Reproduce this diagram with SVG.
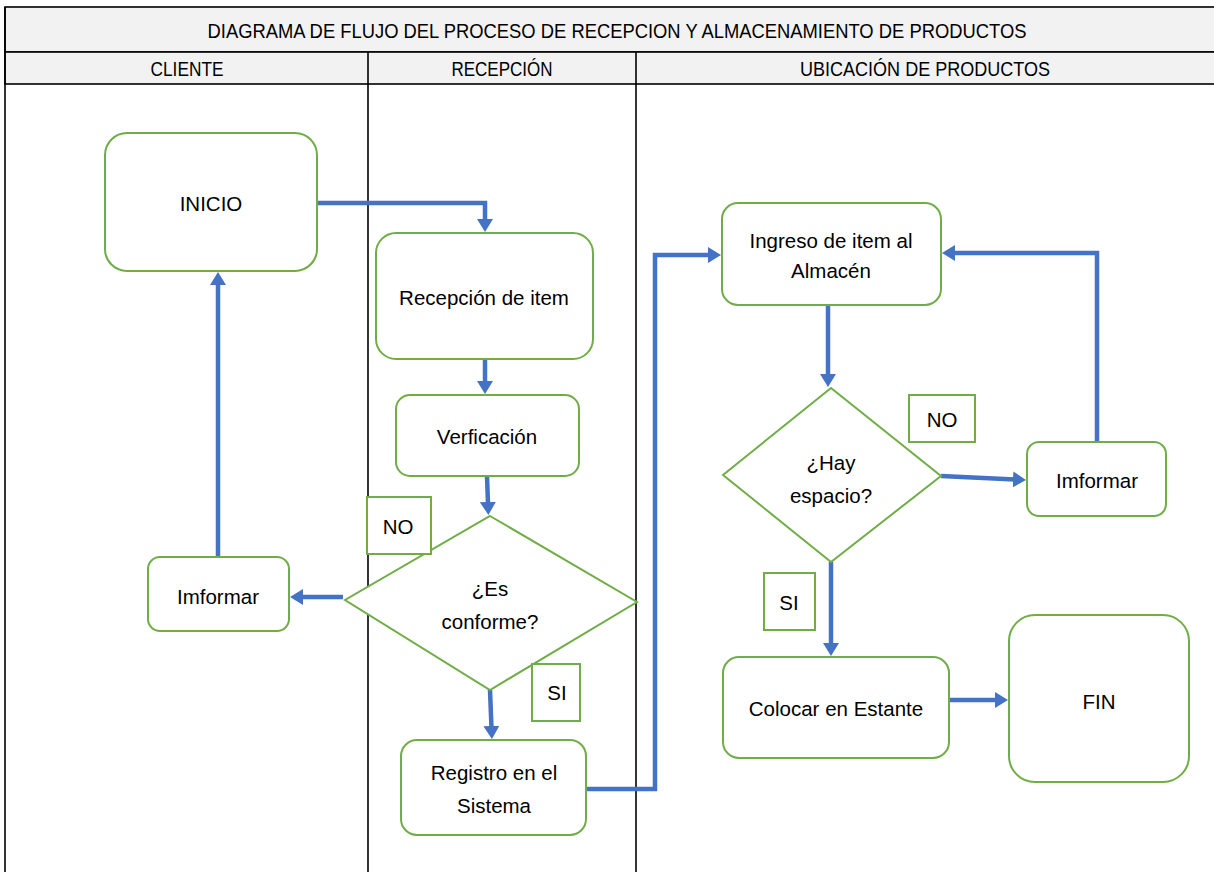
<svg xmlns="http://www.w3.org/2000/svg" width="1214" height="872" viewBox="0 0 1214 872">
<style>
.lane{fill:none;stroke:#000;stroke-width:1.6}
.hdr{fill:#f2f2f2;stroke:#000;stroke-width:1.6}
.ht{font-family:"Liberation Sans",Arial,sans-serif;font-size:21px;fill:#000;text-anchor:middle}
.node{fill:#fff;stroke:#70ad47;stroke-width:2}
.t{font-family:"Liberation Sans",Arial,sans-serif;font-size:20.5px;fill:#000;text-anchor:middle}
.c{fill:none;stroke:#4472c4;stroke-width:4.5;marker-end:url(#ah)}
</style>
<defs>
<marker id="ah" markerUnits="userSpaceOnUse" markerWidth="14" markerHeight="16" refX="2" refY="8" orient="auto">
<path d="M0,0 L13,8 L0,16 z" fill="#4472c4"/>
</marker>
</defs>
<rect width="1214" height="872" fill="#fff"/>
<g id="lanes">
<rect class="hdr" x="5" y="7" width="1215" height="45"/>
<rect class="hdr" x="5" y="52" width="1215" height="32"/>
<line class="lane" x1="5" y1="7" x2="5" y2="872"/>
<line class="lane" x1="368" y1="52" x2="368" y2="872"/>
<line class="lane" x1="636" y1="52" x2="636" y2="872"/>
<text class="ht" x="617" y="38" textLength="819" lengthAdjust="spacingAndGlyphs">DIAGRAMA DE FLUJO DEL PROCESO DE RECEPCION Y ALMACENAMIENTO DE PRODUCTOS</text>
<text class="ht" x="187" y="76" textLength="73" lengthAdjust="spacingAndGlyphs">CLIENTE</text>
<text class="ht" x="502" y="76" textLength="101" lengthAdjust="spacingAndGlyphs">RECEPCIÓN</text>
<text class="ht" x="925" y="76" textLength="250" lengthAdjust="spacingAndGlyphs">UBICACIÓN DE PRODUCTOS</text>
</g>
<g id="connectors">
<path class="c" d="M317,203 H485 V221"/>
<path class="c" d="M485,359 V383"/>
<path class="c" d="M487,476 L488,504"/>
<path class="c" d="M343,597 H301"/>
<path class="c" d="M218,557 V283"/>
<path class="c" d="M490,690 L491.5,728"/>
<path class="c" d="M586,789 H655 V255 H710"/>
<path class="c" d="M828,305 V376"/>
<path class="c" d="M941,476 L1015,479.5"/>
<path class="c" d="M1097,442 V253 H953"/>
<path class="c" d="M831,562 V645"/>
<path class="c" d="M949,700 H997"/>
</g>
<g id="n-inicio"><rect class="node" x="105" y="133" width="212" height="138" rx="22"/><text class="t" x="211" y="211">INICIO</text></g>
<g id="n-recepcion"><rect class="node" x="376" y="233" width="217" height="126" rx="20"/><text class="t" x="484" y="305">Recepción de item</text></g>
<g id="n-verificacion"><rect class="node" x="396" y="395" width="183" height="81" rx="14"/><text class="t" x="487" y="444">Verficación</text></g>
<g id="n-conforme"><polygon class="node" points="490,516 637,602 490,690 345,600"/><text class="t" x="490" y="596">¿Es</text><text class="t" x="490" y="629">conforme?</text></g>
<g id="l-no1"><rect class="node" x="367" y="497" width="64" height="57"/><text class="t" x="398" y="534">NO</text></g>
<g id="l-si1"><rect class="node" x="532" y="664" width="48" height="57"/><text class="t" x="557" y="700">SI</text></g>
<g id="n-registro"><rect class="node" x="401" y="740" width="185" height="95" rx="16"/><text class="t" x="494" y="780">Registro en el</text><text class="t" x="494" y="813">Sistema</text></g>
<g id="n-informar1"><rect class="node" x="148" y="557" width="141" height="74" rx="12"/><text class="t" x="218" y="604">Imformar</text></g>
<g id="n-ingreso"><rect class="node" x="722" y="203" width="219" height="102" rx="16"/><text class="t" x="831" y="248">Ingreso de item al</text><text class="t" x="831" y="278">Almacén</text></g>
<g id="n-espacio"><polygon class="node" points="831,388 941,476 831,562 723,475"/><text class="t" x="831" y="470">¿Hay</text><text class="t" x="831" y="503">espacio?</text></g>
<g id="l-no2"><rect class="node" x="909" y="395" width="66" height="47"/><text class="t" x="942" y="427">NO</text></g>
<g id="n-informar2"><rect class="node" x="1027" y="442" width="139" height="74" rx="12"/><text class="t" x="1097" y="488">Imformar</text></g>
<g id="l-si2"><rect class="node" x="764" y="573" width="51" height="57"/><text class="t" x="789" y="610">SI</text></g>
<g id="n-colocar"><rect class="node" x="723" y="657" width="226" height="101" rx="16"/><text class="t" x="836" y="716">Colocar en Estante</text></g>
<g id="n-fin"><rect class="node" x="1009" y="615" width="180" height="167" rx="26"/><text class="t" x="1099" y="709">FIN</text></g>
</svg>
